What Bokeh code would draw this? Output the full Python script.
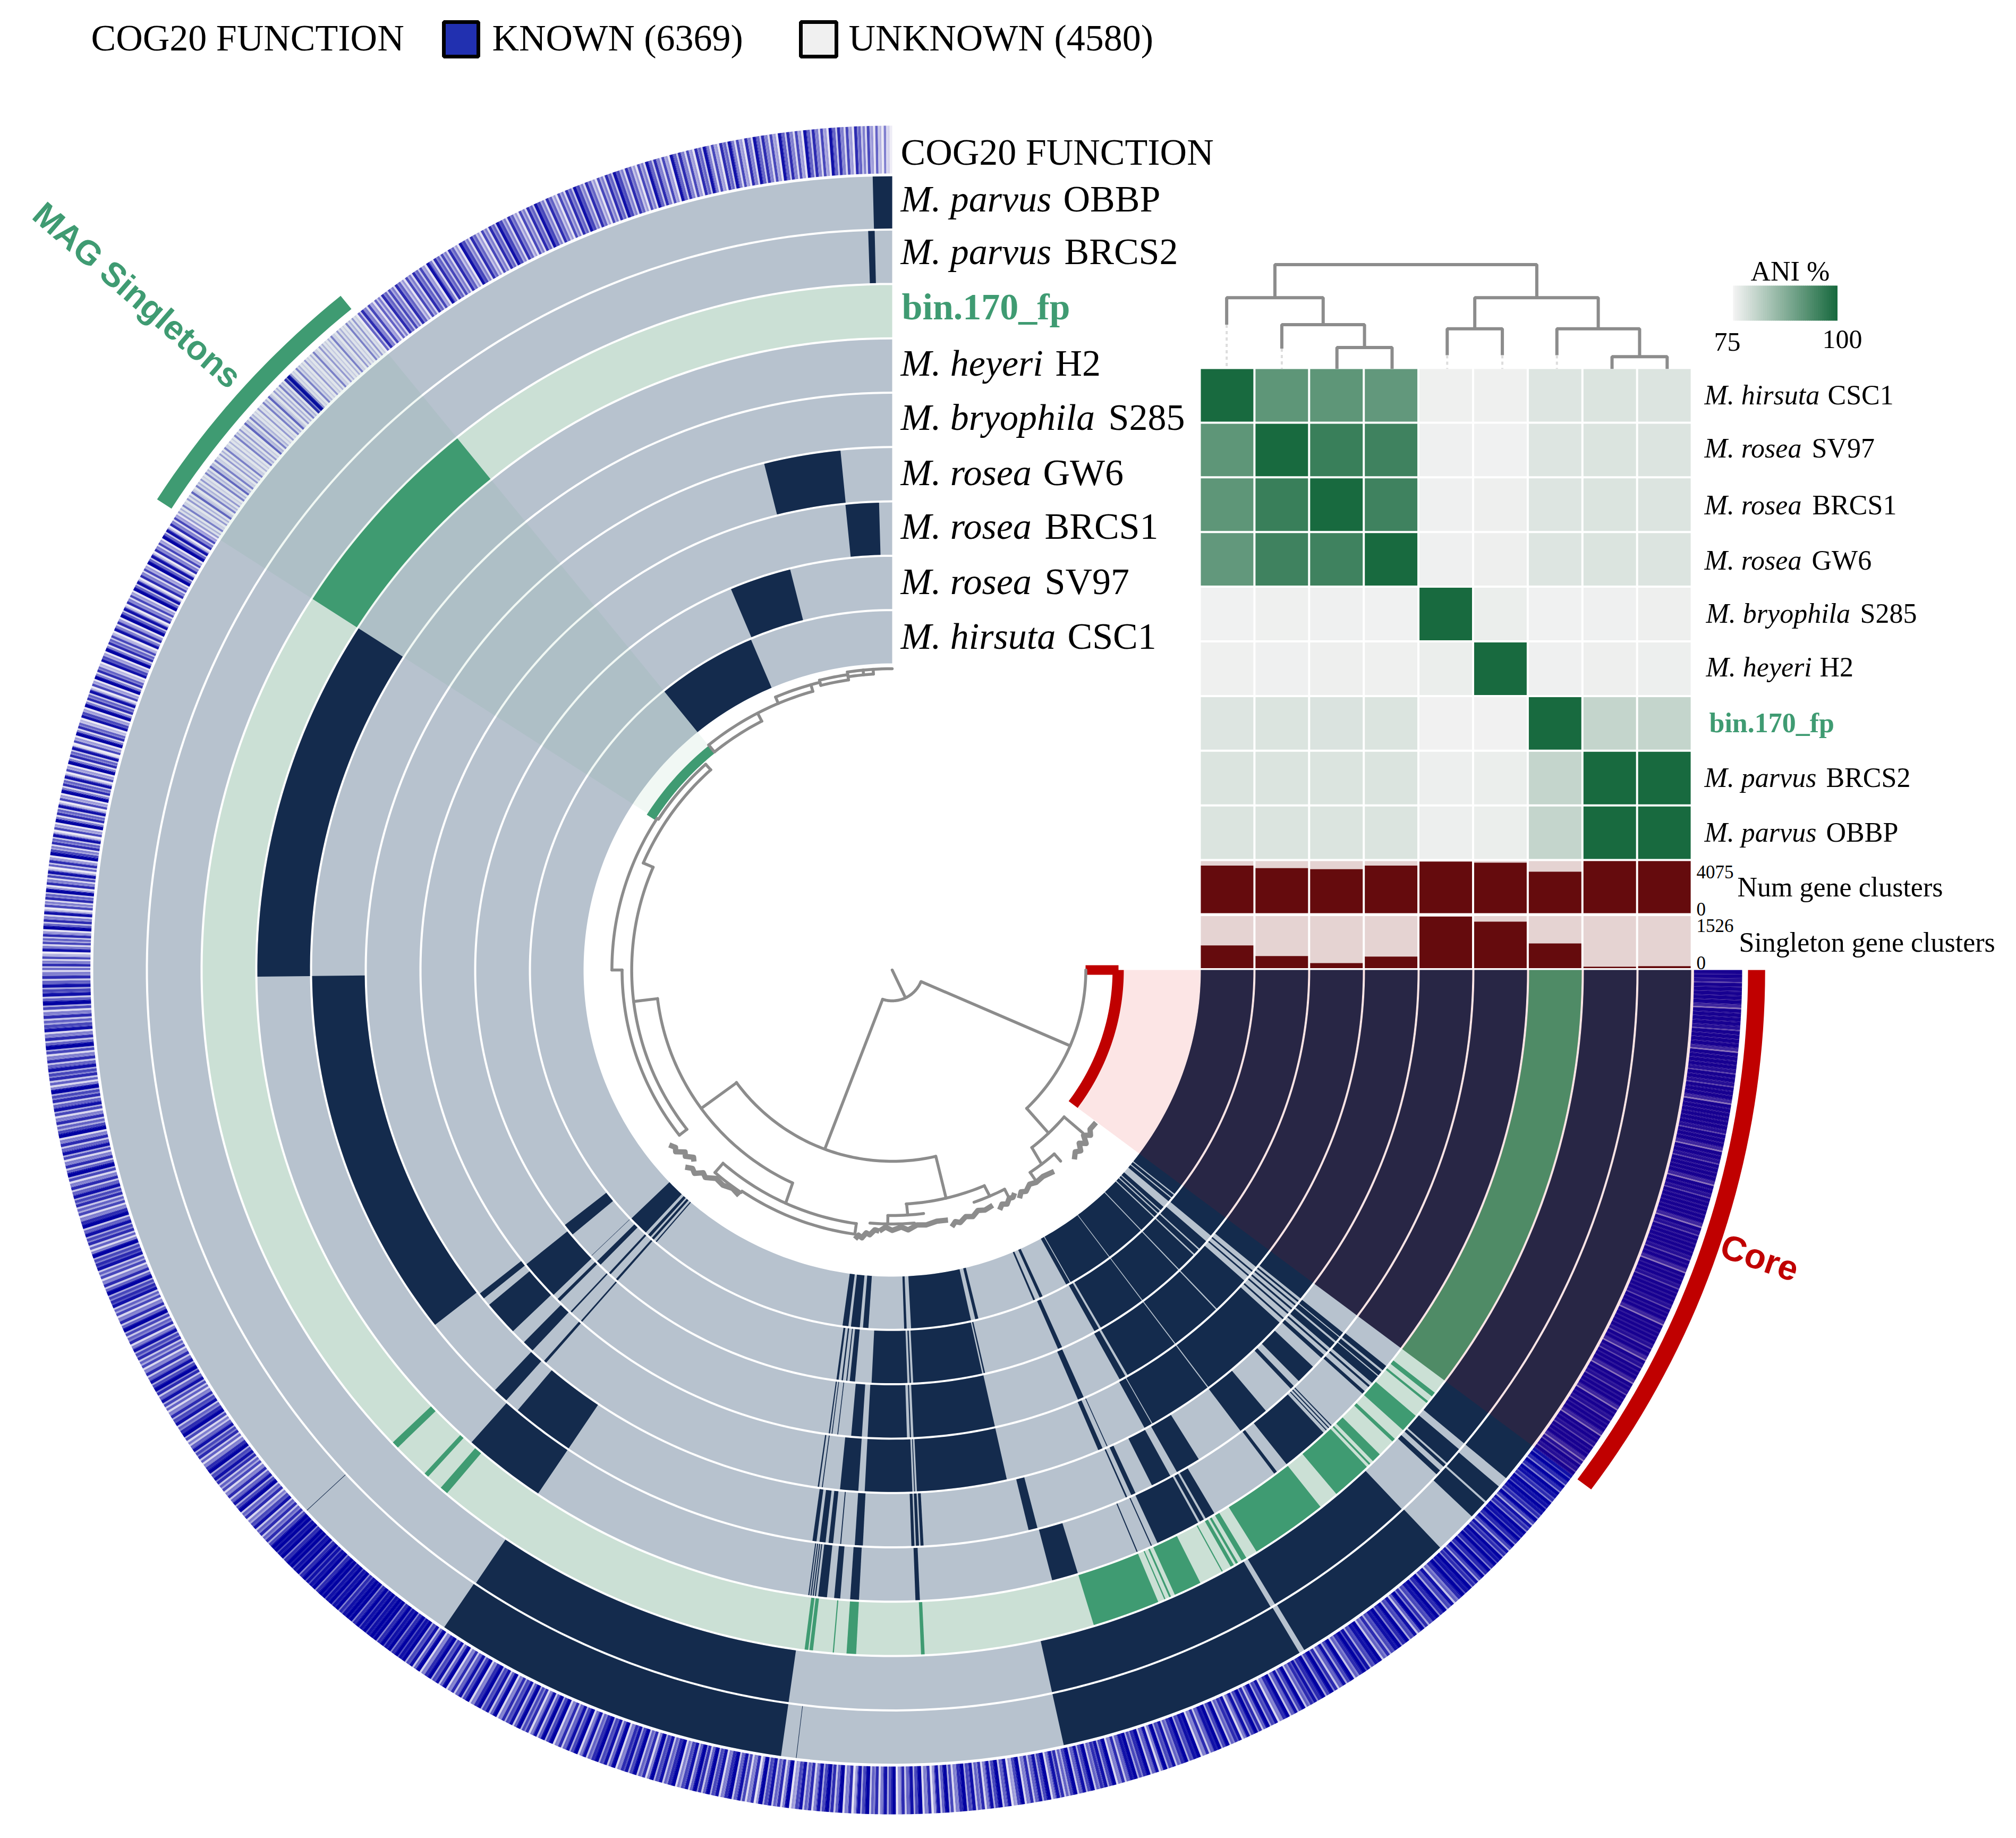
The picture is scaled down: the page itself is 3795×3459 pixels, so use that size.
import numpy as np
from bokeh.plotting import figure
from bokeh.embed import file_html
from bokeh.resources import INLINE
from bokeh.core.properties import value

# ---------- data ----------
RING_NAMES = ["M. hirsuta CSC1", "M. rosea SV97", "M. rosea BRCS1", "M. rosea GW6", "M. bryophila S285",
              "M. heyeri H2", "bin.170_fp", "M. parvus BRCS2", "M. parvus OBBP"]

# presence sectors of each genome, degrees clockwise from east
R0 = [(0,38.6),(38.8,39.3),(39.5,40.1),(41.3,42.0),(42.2,42.6),(42.8,43.4),(43.6,46.4),(46.55,53.0),(53.12,60.4),(60.55,61.2),
      (65.4,65.9),(66.7,67.0),(76.2,76.7),(77.4,87.0),(87.7,88.1),(93.78,94.64),(95.15,96.56),(96.97,97.9),
      (130.7,130.9),(131.3,131.7),(132.0,132.5),(133.0,136.2),(230.9,247.0)]
R1 = [(0,40.0),(41.0,42.4),(42.6,43.4),(43.6,46.4),(46.55,53.0),(53.12,59.9),(60.2,60.9),(65.9,66.5),(77.1,77.3),(77.5,87.1),
      (87.4,87.6),(87.9,92.84),(95.13,95.86),(96.2,96.35),(96.8,97.0),(97.4,97.7),(131.3,131.6),(132.6,132.9),
      (134.5,135.2),(136.25,136.3),(140.2,141.9),(247.2,255.8)]
R2 = [(0,39.4),(40.0,40.2),(40.7,40.9),(41.6,46.4),(46.55,53.0),(53.12,60.0),(60.3,61.1),(66.0,66.75),(77.4,87.4),(87.7,87.85),
      (88.2,93.0),(93.7,95.0),(96.6,96.7),(97.3,97.4),(97.6,97.75),(131.2,131.4),(132.9,133.1),(134.9,135.3),(136.0,141.0),
      (264.3,268.4)]
R3 = [(0,39.0),(39.3,39.5),(39.8,40.0),(40.4,40.6),(41.0,41.2),(41.8,42.0),(42.5,53.0),(53.12,60.3),(60.4,61.3),(65.8,65.9),
      (66.4,66.9),(77.4,87.3),(87.5,87.6),(87.8,93.0),(93.7,95.7),(97.6,97.7),(98.0,98.15),(131.2,131.5),(133.2,134.5),
      (136.2,140.1),(141.0,141.7),(255.9,264.35)]
R4 = [(0,36.8),(39.0,39.5),(39.6,40.1),(40.3,41.0),(41.3,41.5),(41.9,42.3),(43.5,45.5),(46.2,46.6),(49.9,53.1),(58.1,60.6),(61.36,63.4),
      (65.2,65.66),(66.1,66.25),(75.5,76.4),(86.9,87.2),(87.35,87.65),(87.8,88.1),(92.9,93.7),(95.05,95.15),(95.85,96.3),
      (96.6,97.2),(97.5,97.9),(123.9,130.2),(131.7,133.2),(142.0,179.4)]
R5 = [(0,36.8),(38.9,39.4),(39.6,40.0),(40.1,40.9),(41.2,41.4),(41.9,42.2),(46.2,46.3),(46.5,46.6),(46.8,46.9),(47.2,51.6),(52.7,53.0),
      (59.5,60.4),(60.6,61.0),(61.2,65.3),(65.85,65.95),(67.25,67.35),(73.0,75.4),(87.5,87.9),(93.0,93.8),(94.7,95.25),
      (95.9,96.7),(96.9,97.0),(97.1,97.2),(97.3,97.4),(97.5,97.6),(123.9,131.5),(179.4,212.8)]
R6 = [(0,36.8),(38.1,38.5),(39.0,39.2),(40.6,42.2),(43.2,43.5),(45.0,45.8),(46.1,46.25),(46.5,49.9),(51.6,58.1),(59.1,59.55),
      (59.9,60.1),(60.3,60.6),(61.35,61.45),(63.45,65.8),(66.15,66.3),(66.65,66.75),(67.3,73.0),(87.3,87.6),(93.0,93.8),
      (94.85,94.95),(96.6,96.9),(97.0,97.3),(130.2,130.9),(132.3,132.7),(135.8,136.4),(212.8,230.9)]
R7 = [(0,39.8),(40.4,41.8),(41.95,42.2),(42.6,43.0),(46.8,59.05),(59.45,77.6),(98.0,124.0),(268.15,268.65)]
R8 = [(0,39.8),(40.6,42.0),(42.15,43.5),(46.7,58.95),(59.35,77.6),(96.88,96.92),(98.0,124.1),(137.08,137.12),(268.6,270)]
PRESENCE = [R0, R1, R2, R3, R4, R5, R6, R7, R8]

CORE_END = 36.8
MAG_START = 212.8
MAG_END = 230.9

# COG20 strip: share of known functions per small bin, 0 (few) .. 9 (all), by sector
COG_SECTORS = [
 (0, 36.8, "9989999979999899997999989989997999999899979989999799899999979899999899799989999899979999989979899979989997998999799899978989"),
 (36.8, 47, "89797987989879687989796879897979687"),
 (47, 60, "9897586979867958697986759868975968579697"),
 (60, 78, "875968597486957968487596985749869758694859769857496875968596"),
 (78, 100, "5784968574963859684758697469583749685739684759683749579684758639475869374"),
 (100, 125, "68597486957958649758694759687495869758496857496958476958674958697496857495869749586"),
 (125, 137, "9897989799898979987989899798897989979899"),
 (137, 180, "6757586475968574657869745768546975867456857968574657684756957465876957465876945768597465768574695746857496574685769457685746957486574695868574"),
 (180, 212.8, "5746284657395748264759374682573964758263947582639475826394758163947528639475826394752863947562847395827463958274639582746395827463"),
 (212.8, 231, "32413251423142524132412142315242131425132427931421312413212413214231"),
 (231, 270, "5746354756475364756384756475386475364758647536475864753647586475364758647536485746385746375846375846374857463857463857463857463754635241"),
]

# ANI heat map
ANI_NAMES = RING_NAMES[:6] + ["bin.170_fp", "M. parvus BRCS2", "M. parvus OBBP"]
ANI = [
 [100,  92,   92,   91.5, 75.4, 75.4, 77.4, 77.6, 77.5],
 [92,   100,  96.2, 95.5, 75.3, 75.2, 77.4, 77.6, 77.5],
 [92,   96.2, 100,  95.5, 75.3, 75.5, 77.4, 77.6, 77.5],
 [91.5, 95.5, 95.5, 100,  75.3, 75.5, 77.4, 77.6, 77.5],
 [75.2, 75.4, 75.3, 75.2, 100,  75.8, 75.2, 75.3, 75.5],
 [75.4, 75.3, 75.5, 75.4, 75.8, 100,  75.3, 75.5, 75.6],
 [77.4, 77.6, 77.7, 77.6, 75.1, 75.1, 100,  80.3, 80.3],
 [77.6, 77.6, 77.6, 77.6, 75.6, 75.8, 80.3, 100,  100],
 [77.6, 77.6, 77.6, 77.6, 75.6, 75.8, 80.3, 100,  100],
]
NUM_GC = [3722, 3526, 3448, 3722, 4036, 3957, 3252, 4075, 4075]
SINGLETON_GC = [667, 355, 148, 341, 1512, 1363, 726, 44, 59]
NUM_MAX = 4075
SINGLETON_MAX = 1526
KNOWN = 6369
UNKNOWN = 4580

# gene-cluster tree: arcs (r, from, to), stems (angle0, r0, angle1, r1), tips as jagged paths
TREE_ARCS = [(58,22,108),(360,77,144),(362,0,46),(424,40.7,52),(460,48.8,55.9),(442,115,173),(487,142,203.4),(505,142,180),
             (524,180,213),(507,203.4,228),(521,213,228),(528,231,242.5),(545,231,254.2),(558,247,256),(552,256,261.5),
             (562,256,261.5),(567,261.5,270),(558,261.5,266.4),(482,98,131),(502,98,124),(505,124,131),(441,67,86.6),
             (462,82.7,91),(478,85,95),(463,63,70.7)]
TREE_STEMS = [(64.6,0,64.6,58),(108,58,110.5,357),(22,59,23.2,362),(46,362,46.4,424),(52,424,52.6,460),(143.9,360,143.9,442),
              (173,442,173,487),(142,487,142,505),(180,505,180,524),(203.4,487,203.4,507),(228,507,228,521),(231,528,231,545),
              (242.5,528,242.5,545),(247,545,247,558),(254.2,545,254.2,558),(256,552,256,562),(261.5,552,261.5,567),
              (264.5,558,264.5,567),(266.4,558,266.4,567),(114.9,442,114.4,482),(98,482,98,502),(131,482,131,505),
              (76.9,360,76.8,441),(86.5,441,86.4,462),(91,462,91,478),(67,441,66.8,463),(63,463,63,478),(48.8,460,48.8,478),
              (55.9,460,55.9,478),(40.7,424,40.7,470)]
TREE_TIPS = [
 [(97.8,511),(97.2,503),(96.4,507),(95.6,497),(94.8,500),(93.8,490),(92.8,492)],
 [(92.8,492),(91.5,484),(90,490),(88,484),(86.5,490),(84.5,482),(82.5,484),(80,480),(77.5,482)],
 [(77,496),(76,488),(75,492),(73.5,484),(72,488),(70.5,480),(69,484),(67,481)],
 [(66,494),(65,486),(64,490),(63,482),(62.2,484),(61.4,478)],
 [(61,491),(60,482),(59,486),(57.5,478),(56,482),(54,480),(51.4,485)],
 [(46.3,493),(45,484),(44,490),(43,478),(42,488),(41,474),(40,484),(39,476),(37,477)],
 [(141.7,531),(140.5,525),(139.8,530),(138.5,517),(137.8,522),(136.5,512),(135.8,517)],
 [(136.2,536),(135,528),(134,532),(132.8,520),(131.8,524),(130,512),(128,514),(126,508),(124,512)],
]

# ---------- layout ----------
W, H = 3795, 3459
CX, CY, KX = 1679.0, 1825.0, 1.0069
RING_IN = 577.0
RING_STEP = 102.3
RING_W = 98.3
COG_IN, COG_OUT = 1499.0, 1589.0
DARK, GRAY = "#142b4d", "#b7c2ce"
GREEN, LGREEN = "#3f9b72", "#cbe0d5"
RED = "#c00000"
TREE = "#8c8c8c"

p = figure(width=W - 16, height=H - 16, x_range=(0, W - 16), y_range=(H - 16, 0), output_backend="svg",
           toolbar_location=None, x_axis_type=None, y_axis_type=None, min_border=0, outline_line_color=None,
           background_fill_color="white", border_fill_color="white")
p.grid.visible = False


def px(theta, r):
    return CX + KX * r * np.cos(np.radians(theta))


def py(theta, r):
    return CY + r * np.sin(np.radians(theta))


def wedge(t0, t1, r0, r1):
    n = max(2, int(abs(t1 - t0)) + 2)
    th = np.linspace(t0, t1, n)
    xs = np.concatenate([px(th, r1), px(th[::-1], r0)])
    ys = np.concatenate([py(th, r1), py(th[::-1], r0)])
    return list(xs), list(ys)


def draw_wedges(items, colors, **kw):
    xs, ys = [], []
    for t0, t1, r0, r1 in items:
        a, b = wedge(t0, t1, r0, r1)
        xs.append(a)
        ys.append(b)
    p.patches(xs, ys, fill_color=colors, line_color=kw.pop("line_color", None), **kw)


def mix(c0, c1, t):
    return "#%02x%02x%02x" % tuple(int(round(a + (b - a) * t)) for a, b in zip(c0, c1))


# rings
for i, segs in enumerate(PRESENCE):
    r0 = RING_IN + i * RING_STEP
    r1 = r0 + RING_W
    base, dark = (LGREEN, GREEN) if i == 6 else (GRAY, DARK)
    draw_wedges([(0, 270, r0, r1)], base)
    draw_wedges([(a, b, r0, r1) for a, b in segs], dark)

# COG strip: each bin is a dark stripe and a paler stripe whose shades follow the read value
LIGHT, BLUE = (238, 236, 246), (0, 0, 162)
items, cols = [], []
for a, b, s in COG_SECTORS:
    step = (b - a) / len(s)
    for j, ch in enumerate(s):
        d = int(ch) / 9
        w = step * (0.35 + 0.45 * d)
        items.append((a + j * step, a + j * step + w, COG_IN, COG_OUT))
        cols.append(mix(LIGHT, BLUE, min(1.0, d * 1.05)))
        items.append((a + j * step + w, a + (j + 1) * step, COG_IN, COG_OUT))
        cols.append(mix(LIGHT, BLUE, d ** 3))
draw_wedges(items, cols)

# selections
draw_wedges([(0, CORE_END, 433, COG_OUT)], "#e00000", fill_alpha=0.10)
draw_wedges([(MAG_START, MAG_END, 544, COG_OUT)], GREEN, fill_alpha=0.075)
draw_wedges([(0, CORE_END, 412, 433)], RED)
draw_wedges([(0, CORE_END, 1600, 1632)], RED)
draw_wedges([(MAG_START, MAG_END, 1603, 1635), (212.5, 230.8, 526, 544)], GREEN)
p.quad(left=[2043], right=[2105], top=[1816], bottom=[1834], fill_color=RED, line_color=None)

# tree
tx, ty = [], []
for r, a, b in TREE_ARCS:
    th = np.linspace(a, b, max(3, int(b - a) + 2))
    tx.append(list(px(th, r)))
    ty.append(list(py(th, r)))
for a0, r0, a1, r1 in TREE_STEMS:
    tx.append([px(a0, r0), px(a1, r1)])
    ty.append([py(a0, r0), py(a1, r1)])
p.multi_line(tx, ty, line_color=TREE, line_width=5.5, line_cap="round", line_join="round")
p.multi_line([[px(a, r) for a, r in t] for t in TREE_TIPS], [[py(a, r) for a, r in t] for t in TREE_TIPS],
             line_color=TREE, line_width=10, line_join="round")

# heat map
HX, HY, HSTEP, HGAP = 2260.0, 694.0, 102.9, 4.0
n = len(ANI)
C0, C1 = (242, 242, 242), (24, 106, 63)
l, r, t, b, c = [], [], [], [], []
for i in range(n):
    for j in range(n):
        l.append(HX + j * HSTEP)
        r.append(HX + j * HSTEP + HSTEP - HGAP)
        t.append(HY + i * HSTEP)
        b.append(HY + i * HSTEP + HSTEP - HGAP)
        c.append(mix(C0, C1, (ANI[i][j] - 75) / 25))
p.quad(left=l, right=r, top=t, bottom=b, fill_color=c, line_color=None)

# bars
BAR_H = 98.0
num_top = HY + n * HSTEP
sin_top = num_top + 103.5
cols_x = [HX + j * HSTEP for j in range(n)]
cols_r = [x + HSTEP - HGAP for x in cols_x]
for top, vals, vmax in [(num_top, NUM_GC, NUM_MAX), (sin_top, SINGLETON_GC, SINGLETON_MAX)]:
    p.quad(left=cols_x, right=cols_r, top=[top] * n, bottom=[top + BAR_H] * n, fill_color="#e5d3d2", line_color=None)
    p.quad(left=cols_x, right=cols_r, top=[top + BAR_H * (1 - v / vmax) for v in vals], bottom=[top + BAR_H] * n,
           fill_color="#650b0d", line_color=None)

# upper dendrogram
Z = lambda x: 2100 + x / 0.925
Y = lambda y: 400 + y / 1.045
DENDRO = [[(277,167),(277,102),(733,102),(733,167)], [(193,220),(193,167),(361,167),(361,220)],
          [(289,267),(289,220),(433,220),(433,265)], [(385,307),(385,265),(481,265),(481,307)],
          [(577,280),(577,228),(673,228),(673,280)], [(625,228),(625,167),(840,167),(840,228)],
          [(768,280),(768,228),(912,228),(912,283)], [(864,307),(864,283),(960,283),(960,307)]]
DOTS = [[(193,220),(193,307)], [(289,267),(289,307)], [(577,280),(577,307)], [(673,280),(673,307)], [(768,280),(768,307)]]
p.multi_line([[Z(a) for a, _ in s] for s in DENDRO], [[Y(b) for _, b in s] for s in DENDRO], line_color=TREE, line_width=6)
p.multi_line([[Z(a) for a, _ in s] for s in DOTS], [[Y(b) for _, b in s] for s in DOTS], line_color="#dddddd",
             line_width=4, line_dash="6 6")

# ANI legend
gx = np.linspace(3262, 3458, 50)
p.quad(left=list(gx[:-1]), right=list(gx[1:] + 0.5), top=[537] * 49, bottom=[603] * 49,
       fill_color=[mix(C0, C1, i / 48) for i in range(49)], line_color=None)

SERIF = "Liberation Serif"
SANS = "Liberation Sans"


def label(x, y, s, size, style="normal", color="black", font=SERIF, align="left", baseline="alphabetic", angle=0.0):
    if baseline == "alphabetic":
        y = y - 0.27 * size
    p.text(x=[x], y=[y], text=[s], text_font=value(font), text_font_size=value(f"{size}px"), text_font_style=value(style),
           text_color=color, text_align=align, text_baseline=baseline, angle=angle)


def species(x, xu, y, name, size):
    parts = name.rsplit(" ", 1)
    label(x, y, parts[0], size, "italic")
    label(xu, y, parts[1], size)


# ring labels
label(1695, 305, "COG20 FUNCTION", 70)
ring_label_rows = [393, 492, 596, 702, 804, 908, 1009, 1113, 1216]
ring_label_names = ["M. parvus OBBP", "M. parvus BRCS2", "bin.170_fp", "M. heyeri H2", "M. bryophila S285",
                    "M. rosea GW6", "M. rosea BRCS1", "M. rosea SV97", "M. hirsuta CSC1"]
ring_label_up = [2001, 2003, 0, 1986, 2086, 1963, 1966, 1966, 2009]
for nm, y, xu in zip(ring_label_names, ring_label_rows, ring_label_up):
    if nm.startswith("bin"):
        label(1697, y, nm, 70, "bold", GREEN)
    else:
        species(1695, xu, y, nm, 70)

# heat map labels
hm_rows = [757, 857, 964, 1068, 1168, 1269, 1374, 1477, 1580]
hm_x = [3208, 3208, 3208, 3208, 3211, 3211, 3217, 3208, 3208]
hm_up = [3440, 3410, 3411, 3410, 3501, 3425, 0, 3437, 3437]
for nm, y, x, xu in zip(ANI_NAMES, hm_rows, hm_x, hm_up):
    if nm.startswith("bin"):
        label(x, y, nm, 52, "bold", GREEN)
    else:
        species(x, xu, y, nm, 52)

label(3270, 1683, "Num gene clusters", 52)
label(3273, 1787, "Singleton gene clusters", 52)
label(3193, 1650, str(NUM_MAX), 35)
label(3193, 1720, "0", 35)
label(3193, 1751, str(SINGLETON_MAX), 35)
label(3193, 1821, "0", 35)
label(3295, 524, "ANI %", 52)
label(3226, 656, "75", 50)
label(3430, 651, "100", 50)

# top legend
label(171, 90, "COG20 FUNCTION", 70)
p.quad(left=[835], right=[900], top=[41], bottom=[106], fill_color="#2130b0", line_color="black", line_width=7)
label(926, 90, f"KNOWN ({KNOWN})", 70)
p.quad(left=[1507], right=[1574], top=[41], bottom=[106], fill_color="#f0f0f0", line_color="black", line_width=7)
label(1597, 90, f"UNKNOWN ({UNKNOWN})", 70)

# selection names
label(3312, 2366, "Core", 66, "bold", RED, SANS, "center", "middle", np.radians(-19))
label(258, 555, "MAG Singletons", 64, "bold", GREEN, SANS, "center", "middle", np.radians(-41))

open("out.html", "w").write(file_html(p, INLINE))
